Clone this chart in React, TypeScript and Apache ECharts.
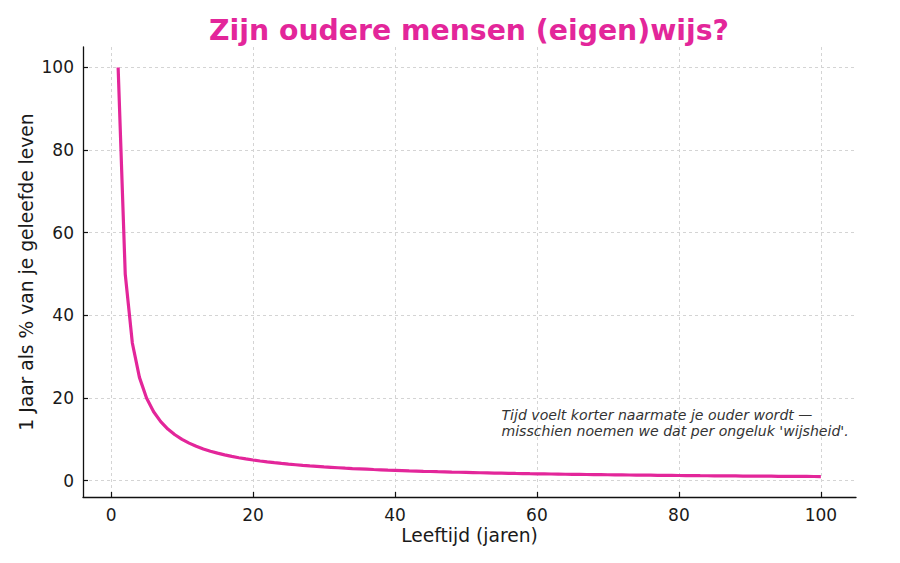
import React, { useEffect, useRef } from "react";
import * as echarts from "echarts";

const titleText = "Zijn oudere mensen (eigen)wijs?";
const xName = "Leeftijd (jaren)";
const yName = "1 Jaar als % van je geleefde leven";
const noteLines = [
  "Tijd voelt korter naarmate je ouder wordt —",
  "misschien noemen we dat per ongeluk 'wijsheid'.",
];
const notePos = [55, 10];

const ages = [
  1, 2, 3, 4, 5, 6, 7, 8, 9, 10, 11, 12, 13, 14, 15, 16, 17, 18, 19, 20,
  21, 22, 23, 24, 25, 26, 27, 28, 29, 30, 31, 32, 33, 34, 35, 36, 37, 38, 39, 40,
  41, 42, 43, 44, 45, 46, 47, 48, 49, 50, 51, 52, 53, 54, 55, 56, 57, 58, 59, 60,
  61, 62, 63, 64, 65, 66, 67, 68, 69, 70, 71, 72, 73, 74, 75, 76, 77, 78, 79, 80,
  81, 82, 83, 84, 85, 86, 87, 88, 89, 90, 91, 92, 93, 94, 95, 96, 97, 98, 99, 100,
];
const percent = [
  100, 50, 33.33, 25, 20, 16.67, 14.29, 12.5, 11.11, 10,
  9.09, 8.33, 7.69, 7.14, 6.67, 6.25, 5.88, 5.56, 5.26, 5,
  4.76, 4.55, 4.35, 4.17, 4, 3.85, 3.7, 3.57, 3.45, 3.33,
  3.23, 3.13, 3.03, 2.94, 2.86, 2.78, 2.7, 2.63, 2.56, 2.5,
  2.44, 2.38, 2.33, 2.27, 2.22, 2.17, 2.13, 2.08, 2.04, 2,
  1.96, 1.92, 1.89, 1.85, 1.82, 1.79, 1.75, 1.72, 1.69, 1.67,
  1.64, 1.61, 1.59, 1.56, 1.54, 1.52, 1.49, 1.47, 1.45, 1.43,
  1.41, 1.39, 1.37, 1.35, 1.33, 1.32, 1.3, 1.28, 1.27, 1.25,
  1.23, 1.22, 1.2, 1.19, 1.18, 1.16, 1.15, 1.14, 1.12, 1.11,
  1.1, 1.09, 1.08, 1.06, 1.05, 1.04, 1.03, 1.02, 1.01, 1,
];
const xTicks = [0, 20, 40, 60, 80, 100];
const yTicks = [0, 20, 40, 60, 80, 100];

const FONT = "DejaVu Sans";
const PINK = "#e3269a";

export default function App() {
  const ref = useRef<HTMLDivElement>(null);
  useEffect(() => {
    if (!ref.current) return;
    const chart = echarts.init(ref.current, undefined, { renderer: "svg" });
    const gridLine = {
      show: true,
      lineStyle: { color: "#d4d4d4", type: [3, 3], width: 1 },
    };
    const axisCommon = {
      type: "value",
      min: -3.95,
      max: 104.95,
      axisLine: { show: true, onZero: false, lineStyle: { color: "#111", width: 1.3 } },
      axisTick: { show: true, inside: true, length: 5, lineStyle: { color: "#111", width: 1.2 } },
      splitLine: gridLine,
      nameLocation: "middle",
      nameMoveOverlap: false,
      nameTextStyle: { fontFamily: FONT, fontSize: 18.7, color: "#1a1a1a" },
    };
    chart.setOption({
      animation: false,
      backgroundColor: "#ffffff",
      title: {
        text: titleText,
        left: 464,
        top: 11,
        textAlign: "center",
        textStyle: { fontFamily: FONT, fontSize: 28.3, fontWeight: "bold", color: PINK },
      },
      grid: { left: 83, right: 44, top: 47, bottom: 66, containLabel: false },
      xAxis: {
        ...axisCommon,
        name: xName,
        nameGap: 29,
        axisTick: { ...axisCommon.axisTick, customValues: xTicks },
        axisLabel: {
          customValues: xTicks,
          margin: 9,
          fontFamily: FONT,
          fontSize: 17,
          color: "#1a1a1a",
        },
      },
      yAxis: {
        ...axisCommon,
        name: yName,
        nameGap: 47,
        axisTick: { ...axisCommon.axisTick, customValues: yTicks },
        axisLabel: {
          customValues: yTicks,
          margin: 9,
          fontFamily: FONT,
          fontSize: 17,
          color: "#1a1a1a",
        },
      },
      series: [
        {
          type: "line",
          data: ages.map((a, i) => [a, percent[i]]),
          showSymbol: false,
          symbol: "none",
          lineStyle: { color: PINK, width: 3.2 },
          z: 5,
        },
      ],
    });
    const p = chart.convertToPixel({ gridIndex: 0 }, notePos) as number[];
    chart.setOption({
      graphic: [
        {
          type: "text",
          x: p[0],
          y: p[1],
          style: {
            text: noteLines.join("\n"),
            fontFamily: FONT,
            fontSize: 14.1,
            fontStyle: "italic",
            fill: "#333",
            lineHeight: 16,
            textAlign: "left",
            textVerticalAlign: "bottom",
          },
        },
      ],
    });
    return () => chart.dispose();
  }, []);
  return (
    <div
      ref={ref}
      style={{ position: "fixed", left: 0, top: 0, width: 900, height: 563 }}
    />
  );
}
